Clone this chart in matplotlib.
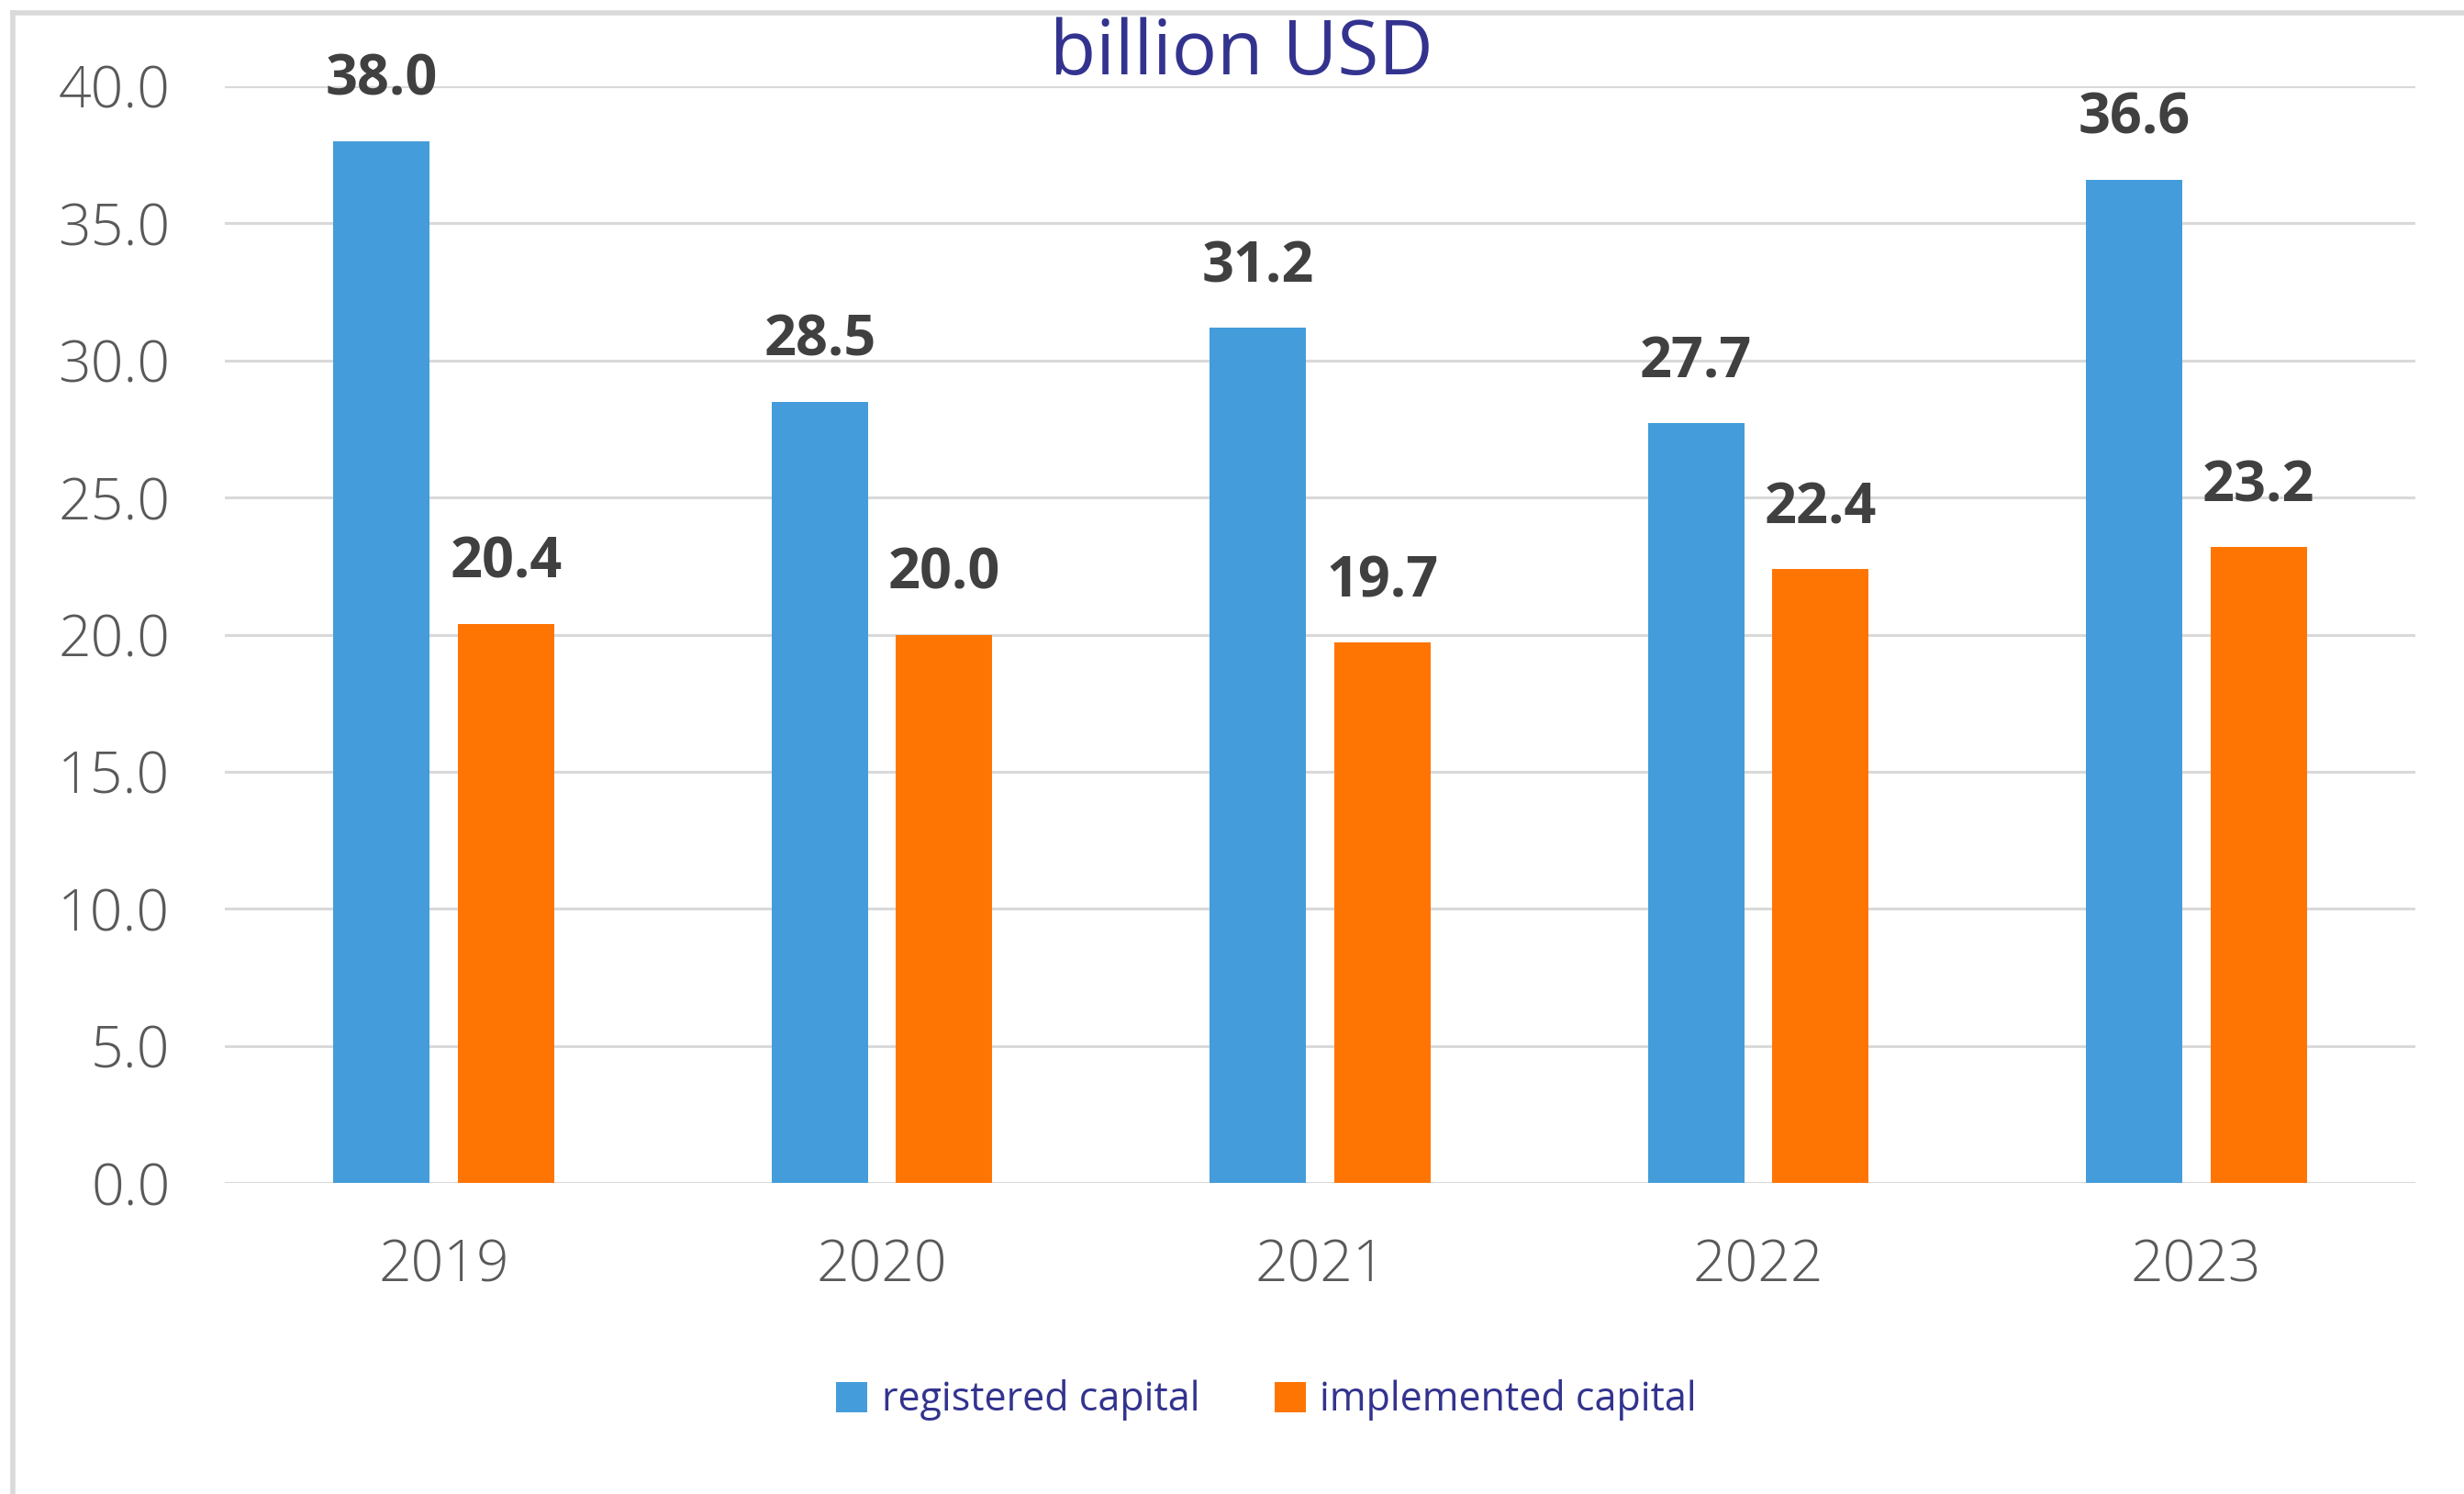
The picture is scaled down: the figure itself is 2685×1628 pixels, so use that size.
import matplotlib
matplotlib.use("Agg")
import matplotlib.pyplot as plt
import numpy as np
from matplotlib.patches import Patch
from matplotlib.lines import Line2D

years = ["2019", "2020", "2021", "2022", "2023"]
registered = [38.0, 28.5, 31.2, 27.7, 36.6]
implemented = [20.4, 20.0, 19.7, 22.4, 23.2]
series_names = ["registered capital", "implemented capital"]
yticks = [0, 5, 10, 15, 20, 25, 30, 35, 40]

BLUE = "#449DDA"
ORANGE = "#FF7504"
INDIGO = "#33338F"
GRID = "#D9D9D9"

W, H = 2685, 1628
fig = plt.figure(figsize=(W / 100, H / 100), dpi=100)
ax = fig.add_axes([245 / W, 1 - 1289 / H, (2632 - 245) / W, (1289 - 94) / H])

x = np.arange(len(years))
bw = 0.22
off = 0.142
b1 = ax.bar(x - off, registered, width=bw, color=BLUE, zorder=3)
b2 = ax.bar(x + off, implemented, width=bw, color=ORANGE, zorder=3)

for bars, vals in ((b1, registered), (b2, implemented)):
    for rect, v in zip(bars, vals):
        ax.annotate(f"{v:.1f}", (rect.get_x() + rect.get_width() / 2, v),
                    xytext=(0, 47), textcoords="offset points",
                    ha="center", va="center", fontsize=44, fontweight="bold",
                    color="#404040", family="Open Sans", clip_on=False)

ax.set_xlim(-0.5, len(years) - 0.5)
ax.set_ylim(0, 40)
ax.set_yticks(yticks)
ax.set_yticklabels([f"{t:.1f}" for t in yticks])
ax.set_xticks(x)
ax.set_xticklabels(years)
ax.yaxis.grid(True, color=GRID, linewidth=2.2, zorder=0)
ax.set_axisbelow(True)
for s in ax.spines.values():
    s.set_visible(False)
ax.tick_params(axis="both", length=0, labelsize=45, labelcolor="#595959")
ax.tick_params(axis="y", pad=43)
ax.tick_params(axis="x", pad=43)
for lab in ax.get_xticklabels() + ax.get_yticklabels():
    lab.set_family("Open Sans")
    lab.set_fontweight("light")

fig.text(1353 / W, 1 - 60 / H, "billion USD", ha="center", va="center",
         fontsize=59, color=INDIGO, family="Open Sans")

handles = [Patch(facecolor=BLUE, edgecolor="none"), Patch(facecolor=ORANGE, edgecolor="none")]
leg = fig.legend(handles, series_names, loc="center", bbox_to_anchor=(1380 / W, 1 - 1526 / H),
                 ncol=2, frameon=False, handlelength=0.8, handleheight=0.8,
                 handletextpad=0.35, columnspacing=1.9, prop={"family": "Open Sans", "size": 31})
for t in leg.get_texts():
    t.set_color(INDIGO)

# outer frame (top and left)
fig.add_artist(Line2D([14 / W, 1], [1 - 14 / H, 1 - 14 / H], color=GRID, linewidth=4, transform=fig.transFigure))
fig.add_artist(Line2D([14 / W, 14 / W], [0, 1 - 14 / H], color=GRID, linewidth=4, transform=fig.transFigure))

fig.savefig("out.png", dpi=100, facecolor="white")
